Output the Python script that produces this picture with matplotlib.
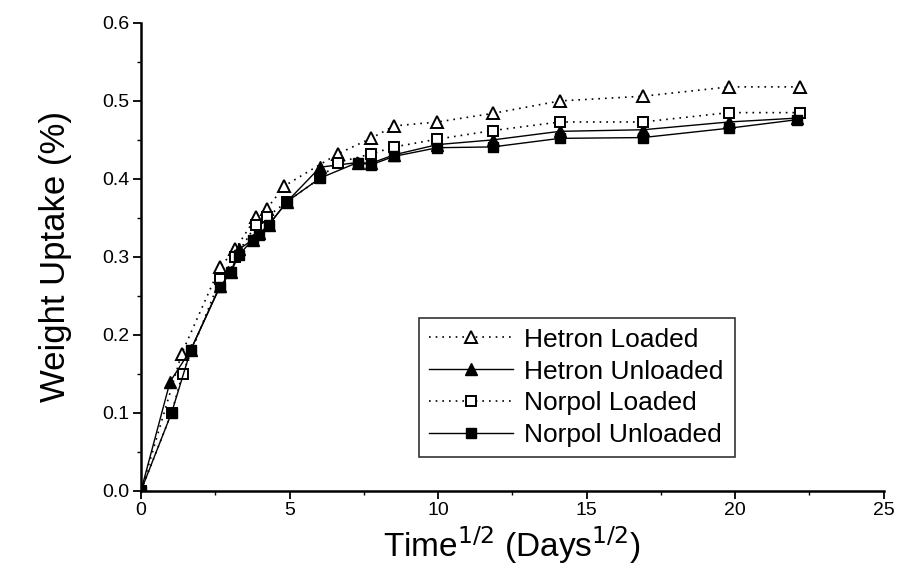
import matplotlib
matplotlib.use("Agg")
import matplotlib.pyplot as plt
from matplotlib.ticker import MultipleLocator

plt.rcParams['font.family'] = ['Liberation Sans', 'DejaVu Sans']

# Hetron Loaded (open triangles, dotted)
hl_x = [0, 1.37, 2.66, 3.18, 3.87, 4.24, 4.83, 6.62, 7.74, 8.53, 9.98, 11.84, 14.1, 16.89, 19.79, 22.2]
hl_y = [0, 0.176, 0.287, 0.310, 0.351, 0.362, 0.391, 0.432, 0.452, 0.468, 0.473, 0.484, 0.500, 0.506, 0.518, 0.518]

# Hetron Unloaded (filled triangles, solid)
hu_x = [0, 0.98, 1.68, 2.65, 3.03, 3.31, 3.76, 3.98, 4.3, 4.92, 6.03, 7.29, 7.74, 8.53, 9.98, 11.84, 14.1, 16.89, 19.79, 22.1]
hu_y = [0, 0.140, 0.181, 0.262, 0.281, 0.310, 0.322, 0.330, 0.341, 0.371, 0.415, 0.421, 0.420, 0.431, 0.444, 0.450, 0.461, 0.463, 0.473, 0.478]

# Norpol Loaded (open squares, dotted)
nl_x = [0, 1.03, 1.40, 2.66, 3.18, 3.87, 4.24, 4.92, 6.03, 6.62, 7.74, 8.53, 9.98, 11.84, 14.1, 16.89, 19.79, 22.2]
nl_y = [0, 0.100, 0.150, 0.271, 0.300, 0.341, 0.351, 0.371, 0.401, 0.421, 0.432, 0.441, 0.451, 0.462, 0.473, 0.473, 0.485, 0.485]

# Norpol Unloaded (filled squares, solid)
nu_x = [0, 1.03, 1.68, 2.65, 3.03, 3.31, 3.76, 3.98, 4.3, 4.92, 6.03, 7.29, 7.74, 8.53, 9.98, 11.84, 14.1, 16.89, 19.79, 22.1]
nu_y = [0, 0.100, 0.181, 0.261, 0.281, 0.303, 0.322, 0.328, 0.341, 0.371, 0.401, 0.421, 0.418, 0.429, 0.440, 0.441, 0.452, 0.453, 0.465, 0.476]

fig = plt.figure(figsize=(8.98, 5.74), dpi=100)
ax = fig.add_axes([0.157, 0.145, 0.827, 0.815])

ax.plot(hl_x, hl_y, color='k', ls=(0, (1, 3)), lw=1.2, marker='^', ms=9, mfc='white', mec='k', mew=1.4,
        label='Hetron Loaded')
ax.plot(hu_x, hu_y, color='k', ls='-', lw=1.0, marker='^', ms=8, mfc='k', mec='k',
        label='Hetron Unloaded')
ax.plot(nl_x, nl_y, color='k', ls=(0, (1, 3)), lw=1.2, marker='s', ms=7.5, mfc='white', mec='k', mew=1.4,
        label='Norpol Loaded')
ax.plot(nu_x, nu_y, color='k', ls='-', lw=1.0, marker='s', ms=7.5, mfc='k', mec='k',
        label='Norpol Unloaded')

ax.set_xlim(0, 25)
ax.set_ylim(0, 0.6)
ax.set_xticks([0, 5, 10, 15, 20, 25])
ax.set_yticks([0.0, 0.1, 0.2, 0.3, 0.4, 0.5, 0.6])
ax.set_yticklabels(['0.0', '0.1', '0.2', '0.3', '0.4', '0.5', '0.6'])
ax.xaxis.set_minor_locator(MultipleLocator(2.5))
ax.yaxis.set_minor_locator(MultipleLocator(0.05))
ax.tick_params(which='major', direction='out', length=6, width=1.3, labelsize=14, pad=2)
ax.tick_params(which='minor', direction='out', length=3, width=1.0)

ax.spines['top'].set_visible(False)
ax.spines['right'].set_visible(False)
ax.spines['left'].set_linewidth(1.8)
ax.spines['bottom'].set_linewidth(1.8)

ax.set_xlabel(r'Time$^{1/2}$ (Days$^{1/2}$)', fontsize=24, labelpad=4)
ax.set_ylabel('Weight Uptake (%)', fontsize=25, labelpad=22)

leg = ax.legend(loc='lower left', bbox_to_anchor=(0.375, 0.073, 0.425, 0.292), mode='expand',
                fontsize=19, frameon=True, fancybox=False, edgecolor='k', handlelength=3.2,
                borderpad=0.35, labelspacing=0.3, handletextpad=0.4, borderaxespad=0)
leg.get_frame().set_linewidth(1.2)

fig.savefig("out.png", dpi=100)
